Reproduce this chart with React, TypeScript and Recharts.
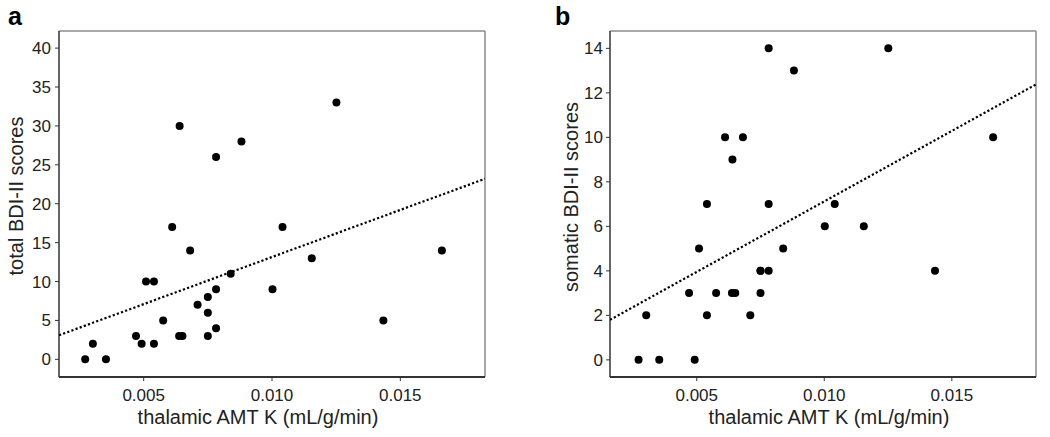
import React from 'react'
import {
  ScatterChart,
  Scatter,
  XAxis,
  YAxis,
  Label,
  ReferenceLine,
} from 'recharts'

// thalamic AMT K per subject (mL/g/min)
const amtK = [
  0.00272, 0.00302, 0.00353, 0.0047, 0.00492, 0.00509, 0.0054, 0.0054,
  0.00576, 0.00611, 0.0064, 0.00638, 0.00651, 0.00681, 0.0071, 0.0075,
  0.0075, 0.0075, 0.00782, 0.00782, 0.00782, 0.00839, 0.00881, 0.01002,
  0.01041, 0.01155, 0.01251, 0.01434, 0.01662,
]

const totalBdi = [
  0, 2, 0, 3, 2, 10, 10, 2, 5, 17, 30, 3, 3, 14, 7, 8, 6, 3, 26, 9, 4, 11, 28, 9,
  17, 13, 33, 5, 14,
]

const somaticBdi = [
  0, 2, 0, 3, 0, 5, 7, 2, 3, 10, 9, 3, 3, 10, 2, 4, 4, 3, 14, 7, 4, 5, 13, 6, 7,
  6, 14, 4, 10,
]

// fitted lines, end points at the plot edges
const trendTotal = [
  { x: 0.0017, y: 3.1 },
  { x: 0.0183, y: 23.2 },
]
const trendSomatic = [
  { x: 0.0016, y: 1.8 },
  { x: 0.0183, y: 12.38 },
]

const xTicks = [0.005, 0.01, 0.015]
const totalTicks = [0, 5, 10, 15, 20, 25, 30, 35, 40]
const somaticTicks = [0, 2, 4, 6, 8, 10, 12, 14]

const FONT = 'Arial, "Liberation Sans", Helvetica, sans-serif'

const XTick = (props: any) => {
  const { x, y, payload } = props
  return (
    <text
      x={x}
      y={y + 20}
      textAnchor="middle"
      style={{ fontSize: 17, fontFamily: FONT, fill: '#222' }}
    >
      {Number(payload.value).toFixed(3)}
    </text>
  )
}

const YTick = (props: any) => {
  const { x, y, payload } = props
  return (
    <text
      x={x}
      y={y + 6}
      textAnchor="end"
      style={{ fontSize: 17, fontFamily: FONT, fill: '#222' }}
    >
      {payload.value}
    </text>
  )
}

const Dot = (props: any) => {
  const { cx, cy } = props
  return <circle cx={cx} cy={cy} r={4} fill="#000" />
}
const NoDot = () => <g />

interface PanelProps {
  letter: string
  letterX: number
  yTitle: string
  yTitleX: number
  yTitleY: number
  xTitleX: number
  ys: number[]
  trend: { x: number; y: number }[]
  xDomain: [number, number]
  yDomain: [number, number]
  yTicks: number[]
  marginLeft: number
  marginRight: number
  yTickMargin: number
}

function Panel(p: PanelProps) {
  const points = amtK.map((x, i) => ({ x, y: p.ys[i] }))
  return (
    <ScatterChart
      width={525}
      height={437}
      margin={{ top: 31, right: p.marginRight, bottom: 0, left: p.marginLeft }}
    >
      <XAxis
        type="number"
        dataKey="x"
        domain={p.xDomain}
        allowDataOverflow
        ticks={xTicks}
        tick={<XTick />}
        tickSize={4}
        tickMargin={0}
        height={60}
        axisLine={{ stroke: '#333', strokeWidth: 2 }}
        tickLine={{ stroke: '#333' }}
      >
        <Label
          content={() => (
            <text
              x={p.xTitleX}
              y={424}
              textAnchor="middle"
              fontSize={20}
              fontFamily={FONT}
              fill="#222"
            >
              thalamic AMT K (mL/g/min)
            </text>
          )}
        />
      </XAxis>
      <YAxis
        type="number"
        dataKey="y"
        domain={p.yDomain}
        allowDataOverflow
        ticks={p.yTicks}
        tick={<YTick />}
        tickSize={4}
        tickMargin={p.yTickMargin}
        width={59}
        axisLine={{ stroke: '#333', strokeWidth: 1.5 }}
        tickLine={{ stroke: '#333' }}
      >
        <Label
          content={() => (
            <g>
              <text
                x={p.yTitleX}
                y={p.yTitleY}
                transform={`rotate(-90 ${p.yTitleX} ${p.yTitleY})`}
                textAnchor="middle"
                dominantBaseline="central"
                fontSize={20}
                fontFamily={FONT}
                fill="#222"
              >
                {p.yTitle}
              </text>
              <text
                x={p.letterX}
                y={25}
                fontSize={25}
                fontWeight="bold"
                fontFamily={FONT}
                fill="#000"
              >
                {p.letter}
              </text>
            </g>
          )}
        />
      </YAxis>
      <ReferenceLine y={p.yDomain[1]} stroke="#8c8c8c" strokeWidth={1.5} />
      <ReferenceLine x={p.xDomain[1]} stroke="#8c8c8c" strokeWidth={1.5} />
      <Scatter
        data={p.trend}
        line={{ stroke: '#000', strokeWidth: 2.2, strokeDasharray: '2.2 2.2' }}
        shape={NoDot}
        isAnimationActive={false}
      />
      <Scatter data={points} shape={Dot} isAnimationActive={false} />
    </ScatterChart>
  )
}

export default function App() {
  return (
    <div
      style={{
        position: 'absolute',
        left: 0,
        top: 0,
        width: 1050,
        height: 437,
        background: '#fff',
        display: 'flex',
      }}
    >
      <Panel
        letter="a"
        letterX={8}
        yTitle="total BDI-II scores"
        yTitleX={16}
        yTitleY={196}
        xTitleX={258}
        ys={totalBdi}
        trend={trendTotal}
        xDomain={[0.0017, 0.0183]}
        yDomain={[-2.27, 42.2]}
        yTicks={totalTicks}
        marginLeft={0}
        marginRight={40}
        yTickMargin={4}
      />
      <Panel
        letter="b"
        letterX={30}
        yTitle="somatic BDI-II scores"
        yTitleX={46}
        yTitleY={197}
        xTitleX={304}
        ys={somaticBdi}
        trend={trendSomatic}
        xDomain={[0.0016, 0.0183]}
        yDomain={[-0.77, 14.78]}
        yTicks={somaticTicks}
        marginLeft={26}
        marginRight={14}
        yTickMargin={3}
      />
    </div>
  )
}
